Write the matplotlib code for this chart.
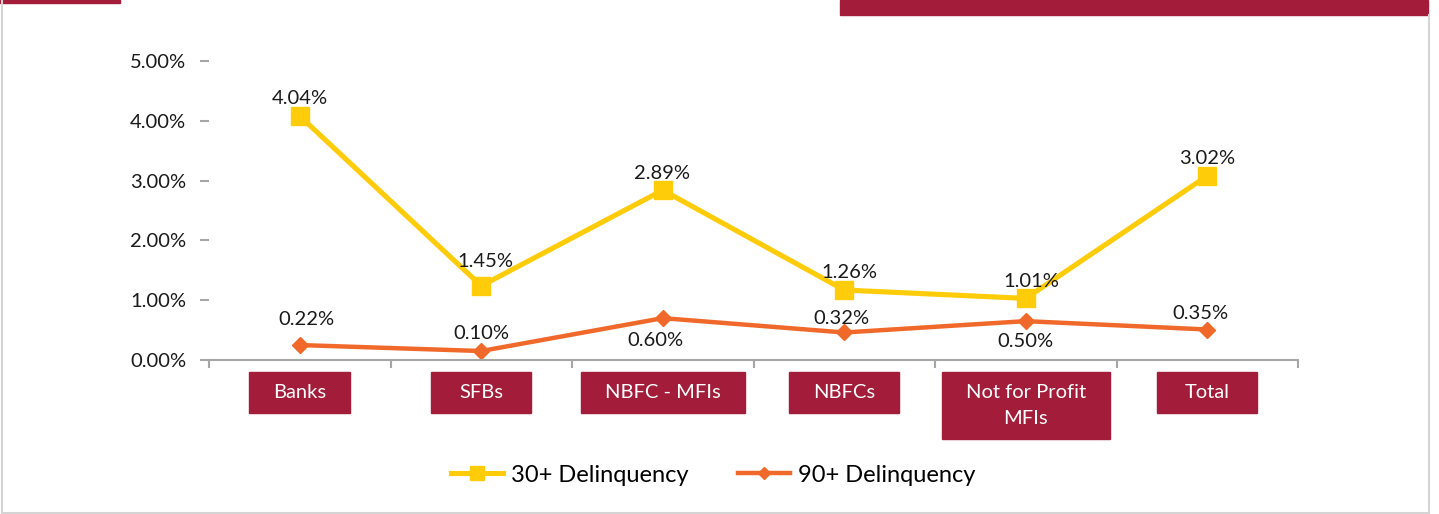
import matplotlib.pyplot as plt
from matplotlib.patches import Rectangle
from matplotlib.lines import Line2D
import numpy as np

plt.rcParams['font.family'] = ['Lato', 'DejaVu Sans']

categories = ['Banks', 'SFBs', 'NBFC - MFIs', 'NBFCs', 'Not for Profit\nMFIs', 'Total']
dpd30 = [4.08, 1.24, 2.84, 1.17, 1.03, 3.08]
dpd90 = [0.25, 0.15, 0.70, 0.46, 0.65, 0.51]
dpd30_labels = ['4.04%', '1.45%', '2.89%', '1.26%', '1.01%', '3.02%']
dpd90_labels = ['0.22%', '0.10%', '0.60%', '0.32%', '0.50%', '0.35%']
yticks = [0, 1, 2, 3, 4, 5]

# where the value labels sit relative to the point (pixels)
off30 = [(0, 18), (4, 24), (-1, 17), (5, 18), (6, 17), (0, 17)]
off90 = [(7, 26), (0, 18), (-7, -22), (-3, 14), (0, -20), (-7, 16)]

W, H = 1439, 514
RED = '#a31d3a'
YEL = '#ffcc0a'
ORA = '#f0692a'
GREY = '#a6a6a6'
TXT = '#1a1a1a'

fig = plt.figure(figsize=(W/100, H/100), dpi=100)
ax = fig.add_axes([209/W, 1-360/H, (1298-209)/W, (360-61)/H])
ax.patch.set_visible(False)

x = np.arange(len(categories))
ax.plot(x, dpd30, color=YEL, lw=3.7, marker='s', ms=13, label='30+ Delinquency')
ax.plot(x, dpd90, color=ORA, lw=3.2, marker='D', ms=8, label='90+ Delinquency')

for i in range(len(x)):
    ax.annotate(dpd30_labels[i], (x[i], dpd30[i]), xytext=off30[i], textcoords='offset pixels',
                ha='center', va='center', fontsize=14.5, color=TXT)
    ax.annotate(dpd90_labels[i], (x[i], dpd90[i]), xytext=off90[i], textcoords='offset pixels',
                ha='center', va='center', fontsize=14.5, color=TXT)

ax.set_xlim(-0.5, len(x)-0.5)
ax.set_ylim(0, 5)
for s in ['top', 'right', 'left']:
    ax.spines[s].set_visible(False)
ax.spines['bottom'].set_color(GREY)
ax.spines['bottom'].set_linewidth(1.5)

ax.set_yticks(yticks)
ax.set_yticklabels(['{:.2f}%'.format(v) for v in yticks])
ax.tick_params(axis='y', length=6.5, width=1.5, color=GREY, pad=10, labelsize=14.5, labelcolor=TXT)
ax.set_xticks(x)
ax.set_xticklabels([])
ax.tick_params(axis='x', which='major', length=0)
ax.set_xticks(np.arange(-0.5, len(x)), minor=True)
ax.tick_params(axis='x', which='minor', length=5.5, width=1.5, color=GREY)

# category names in red boxes under the axis
vpad = 12
cat_txt = []
for i, c in enumerate(categories):
    t = ax.annotate(c, xy=(x[i], 0), xycoords=('data', 'axes fraction'), xytext=(0, -12 - vpad),
                    textcoords='offset pixels', ha='center', va='top', color='white',
                    fontsize=14.5, linespacing=1.65, annotation_clip=False, zorder=4)
    cat_txt.append(t)

fig.legend(loc='center', bbox_to_anchor=(713/W, 1-475/H), ncol=2, frameon=False,
           fontsize=17, handlelength=2.2, handletextpad=0.35, columnspacing=2.1,
           markerscale=0.75)

# page decoration
fig.add_artist(Rectangle((0, 1-3/H), 120/W, 3/H, color=RED, transform=fig.transFigure))
fig.add_artist(Rectangle((840/W, 1-15/H), 588/W, 15/H, color=RED, transform=fig.transFigure))
bc = '#d4d4d4'
fig.add_artist(Line2D([2/W, 2/W], [0, 1], color=bc, lw=1.5, transform=fig.transFigure))
fig.add_artist(Line2D([1429/W, 1429/W], [0, 1-15/H], color=bc, lw=1.5, transform=fig.transFigure))
fig.add_artist(Line2D([2/W, 1429/W], [1.5/H, 1.5/H], color=bc, lw=1.5, transform=fig.transFigure))

fig.canvas.draw()
r = fig.canvas.get_renderer()
inv = fig.transFigure.inverted()
for t in cat_txt:
    bb = t.get_window_extent(r)
    cx = (bb.x0 + bb.x1) / 2
    bw = max(100, bb.width + 48)
    x0, y0 = inv.transform((cx - bw/2, bb.y0 - vpad))
    x1, y1 = inv.transform((cx + bw/2, bb.y1 + vpad))
    ax.add_artist(Rectangle((x0, y0), x1-x0, y1-y0, color=RED, transform=fig.transFigure,
                            clip_on=False, zorder=3))

fig.savefig('out.png', dpi=100)
